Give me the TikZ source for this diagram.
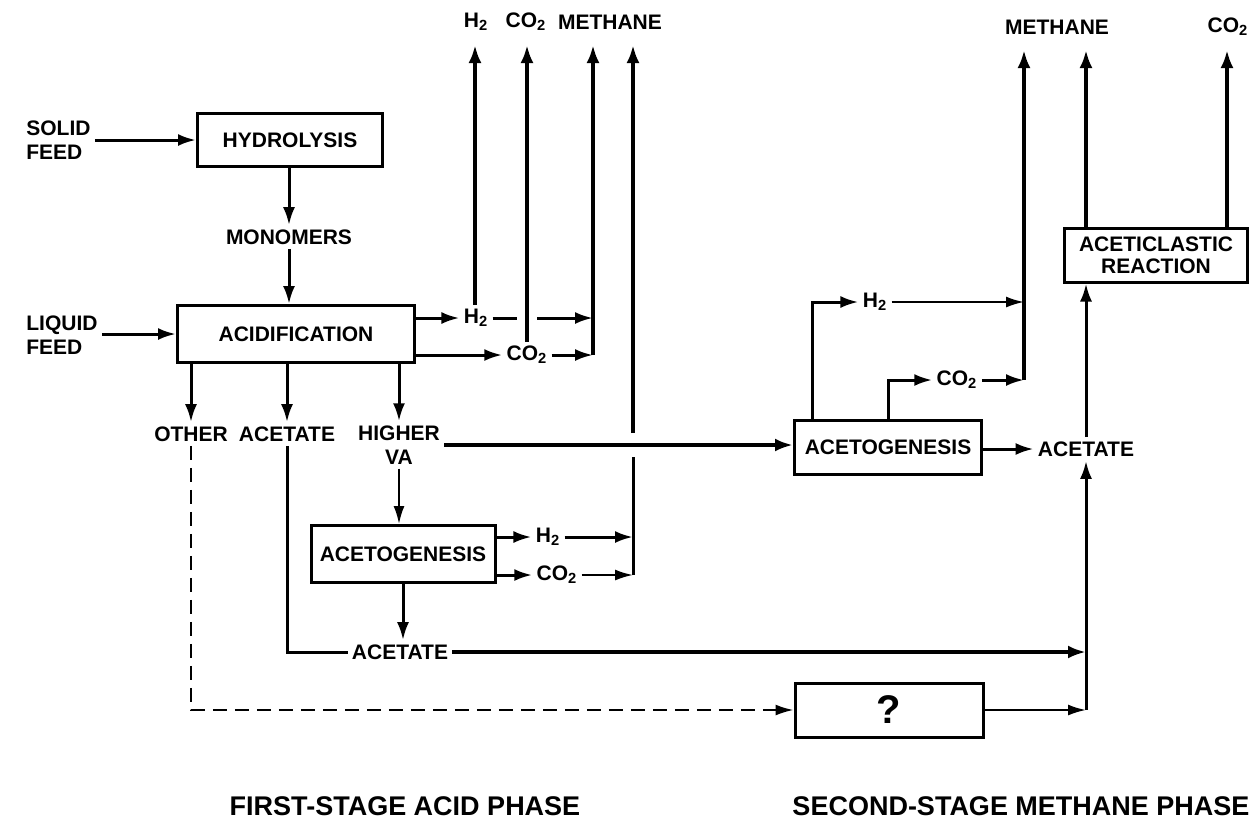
\documentclass[tikz,border=0pt]{standalone}
\usepackage{fontspec}
\setmainfont{Liberation Sans}
\usetikzlibrary{positioning, arrows.meta}
\newcommand{\Htwo}{H\textsubscript{2}}
\newcommand{\COtwo}{CO\textsubscript{2}}
\tikzset{
  stage/.style={draw, line width=1.5pt, inner sep=0pt, font=\bfseries\fontsize{10.5}{12}\selectfont},
  lbl/.style={inner sep=2pt, font=\bfseries\fontsize{10.5}{12}\selectfont, align=center},
  phase/.style={font=\bfseries\fontsize{13.5}{15}\selectfont},
  pipe/.style={line width=1.5pt},
  flow/.style={line width=1.5pt, -{Latex[length=9pt,width=6pt]}},
  bigflow/.style={line width=2.2pt, -{Latex[length=9pt,width=6.5pt]}},
  thinflow/.style={line width=1pt, -{Latex[length=9pt,width=5.5pt]}},
  guess/.style={line width=1pt, dash pattern=on 7pt off 4pt, -{Latex[length=9pt,width=5.5pt]}}
}

\begin{document}
\begin{tikzpicture}[x=0.5pt, y=-0.5pt]
  \useasboundingbox (0,0) rectangle (1252,832);

  % first stage
  \node[stage, minimum width=92.5pt, minimum height=26.5pt] (hyd) at (290,140) {HYDROLYSIS};
  \node[stage, minimum width=118.5pt, minimum height=28.5pt] (acid) at (296,334) {ACIDIFICATION};
  \node[stage, minimum width=92pt, minimum height=28.5pt] (acetoA) at (403,554) {ACETOGENESIS};

  \node[lbl, align=left, anchor=west] (solid) at (22,140) {SOLID\\FEED};
  \node[lbl, align=left, anchor=west] (liquid) at (22,335) {LIQUID\\FEED};
  \node[lbl] (mono) at (289,237) {MONOMERS};
  \node[lbl] (h2a) at (476,318) {\Htwo};
  \node[lbl] (co2a) at (527,355) {\COtwo};
  \node[lbl] (other) at (191,434) {OTHER};
  \node[lbl] (acetA) at (287,434) {ACETATE};
  \node[lbl] (higher) at (399,445) {HIGHER\\VA};
  \node[lbl] (h2b) at (548,537) {\Htwo};
  \node[lbl] (co2b) at (557,575) {\COtwo};
  \node[lbl] (acetB) at (400,652) {ACETATE};

  % second stage
  \node[stage, minimum width=93.5pt, minimum height=27pt] (acetoB) at (888,447) {ACETOGENESIS};
  \node[stage, minimum width=94pt, minimum height=27pt, font=\bfseries\fontsize{20}{22}\selectfont] (unk) at (889,710) {?};
  \node[stage, minimum width=91.5pt, minimum height=27pt, align=center] (acl) at (1156,255) {ACETICLASTIC\\[-1pt]REACTION};

  \node[lbl] (h2c) at (875,302) {\Htwo};
  \node[lbl] (co2c) at (957,380) {\COtwo};
  \node[lbl] (acetC) at (1086,449) {ACETATE};

  % outlets at the top
  \coordinate (vh2) at (475,45);
  \coordinate (vco2) at (527,45);
  \coordinate (vm1) at (593,45);
  \coordinate (vm2) at (633,45);
  \coordinate (vm3) at (1024,50);
  \coordinate (vm4) at (1086,50);
  \coordinate (vco2b) at (1227,50);
  \coordinate (up1) at (812,0);
  \coordinate (up2) at (888,0);

  \node[lbl] (th2) at (476,22) {\Htwo};
  \node[lbl] (tco2) at (526,22) {\COtwo};
  \node[lbl] (tmeth) at (610,22) {METHANE};
  \node[lbl] (tmeth2) at (1057,27) {METHANE};
  \node[lbl] (tco2b) at (1228,27) {\COtwo};

  \node[phase] (first) at (405,806) {FIRST-STAGE ACID PHASE};
  \node[phase] (second) at (1021,806) {SECOND-STAGE METHANE PHASE};

  % first stage flows
  \draw[flow] (solid.east |- hyd.west) -- (hyd.west);
  \draw[flow] (hyd.south -| mono) -- (mono.north);
  \draw[flow] (mono.south) -- (acid.north -| mono);
  \draw[flow] (liquid.east |- acid.west) -- (acid.west);
  \draw[flow] (acid.east |- h2a) -- (h2a.west);
  \draw[flow] (acid.east |- co2a) -- (co2a.west);
  \draw[pipe] (h2a.east) -- ([xshift=-5pt]vco2 |- h2a);
  \draw[flow] ([xshift=5pt]vco2 |- h2a) -- (vm1 |- h2a);
  \draw[flow] (co2a.east) -- (vm1 |- co2a);
  \draw[bigflow] (vh2 |- h2a.north) -- (vh2);
  \draw[bigflow] (co2a.north) -- (vco2);
  \draw[bigflow] (vm1 |- co2a) -- (vm1);

  \draw[flow] (acid.south -| other) -- (other.north);
  \draw[flow] (acid.south -| acetA) -- (acetA.north);
  \draw[flow] (acid.south -| higher) -- (higher.north);

  \draw[bigflow] (higher.east) -- (acetoB.west |- higher.east);
  \draw[thinflow] (higher.south) -- (acetoA.north -| higher);
  \draw[flow] (acetoA.east |- h2b) -- (h2b.west);
  \draw[flow] (acetoA.east |- co2b) -- (co2b.west);
  \draw[flow] (h2b.east) -- (vm2 |- h2b);
  \draw[thinflow] (co2b.east) -- (vm2 |- co2b);
  \draw[pipe] (vm2 |- co2b) -- ([yshift=-6pt]vm2 |- higher.east);
  \draw[bigflow] ([yshift=6pt]vm2 |- higher.east) -- (vm2);

  \draw[flow] (acetoA.south) -- (acetB.north -| acetoA);
  \draw[pipe] (acetA.south) -- (acetA |- acetB) -- (acetB.west);
  \draw[bigflow] (acetB.east) -- (vm4 |- acetB);
  \draw[guess] (other.south) -- (other |- unk) -- (unk.west);

  % second stage flows
  \draw[thinflow] (unk.east) -- (vm4 |- unk);
  \draw[flow] (vm4 |- unk) -- (acetC.south);
  \draw[flow] (acetoB.east |- acetC) -- (acetC.west);
  \draw[flow] (acetC.north) -- (acetC.north |- acl.south);
  \draw[bigflow] (vm4 |- acl.north) -- (vm4);
  \draw[bigflow] (vco2b |- acl.north) -- (vco2b);

  \draw[flow] (up1 |- acetoB.north) -- (up1 |- h2c) -- (h2c.west);
  \draw[thinflow] (h2c.east) -- (vm3 |- h2c);
  \draw[flow] (up2 |- acetoB.north) -- (up2 |- co2c) -- (co2c.west);
  \draw[flow] (co2c.east) -- (vm3 |- co2c);
  \draw[bigflow] (vm3 |- co2c) -- (vm3);
\end{tikzpicture}
\end{document}
